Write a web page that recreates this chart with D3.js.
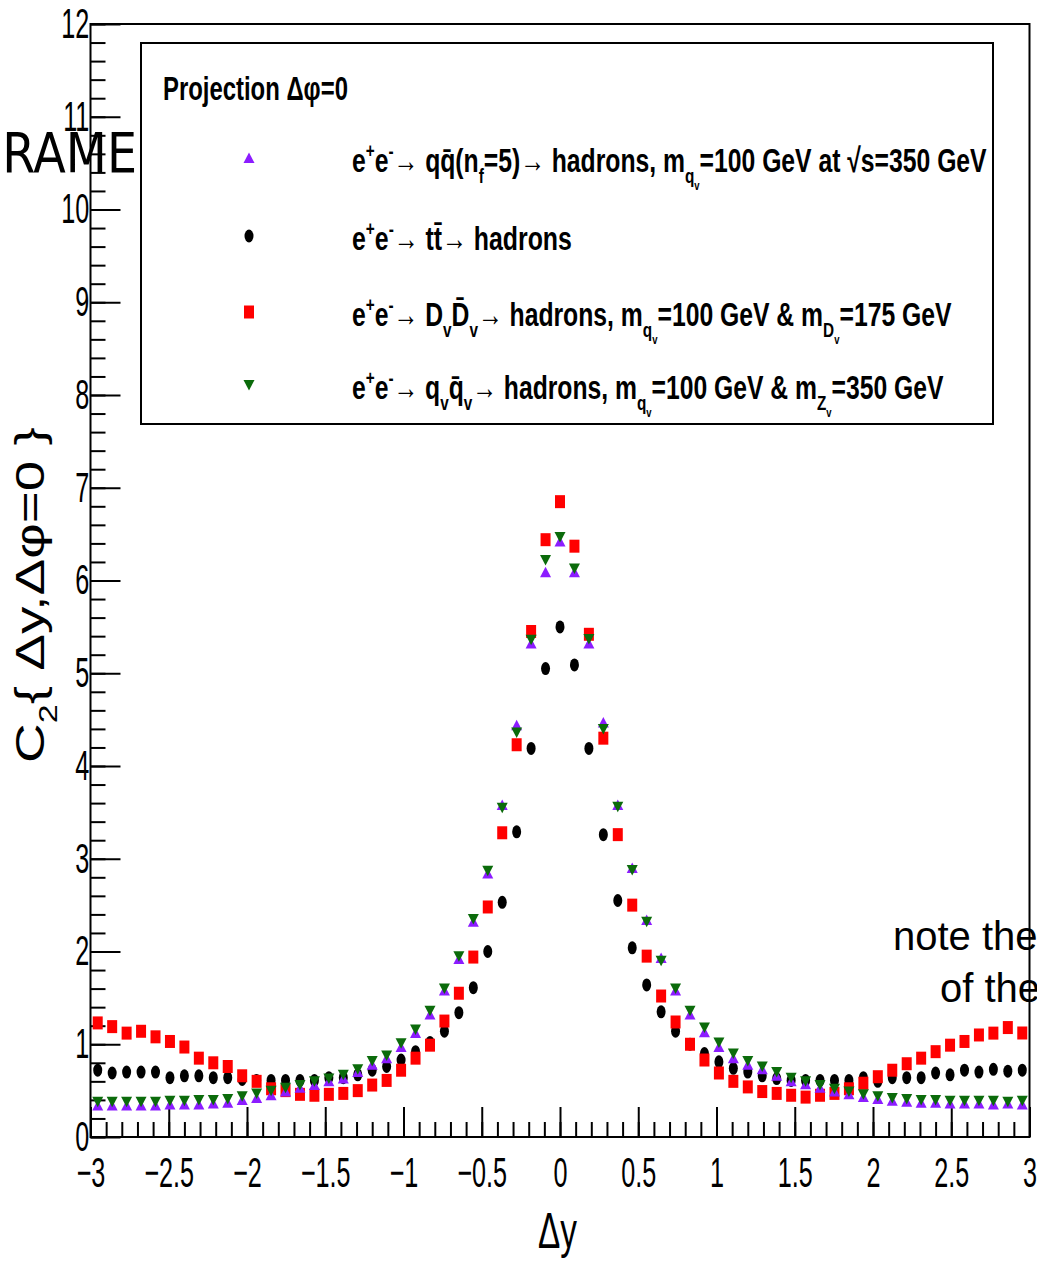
<!DOCTYPE html>
<html>
<head>
<meta charset="utf-8">
<script src="https://cdn.jsdelivr.net/npm/d3@7"></script>
<style>
  body { margin: 0; background: #fff; }
  svg { display: block; font-family: "Liberation Sans", Arial, sans-serif; }
</style>
</head>
<body>
<div id="chart"></div>
<script>
// Histogram binning (65 bins between -3 and 3)
const nBins = 65;
const xMin = -3, xMax = 3;
const xTicks = [-3, -2.5, -2, -1.5, -1, -0.5, 0, 0.5, 1, 1.5, 2, 2.5, 3];
const yTicks = [0, 1, 2, 3, 4, 5, 6, 7, 8, 9, 10, 11, 12];
const xMinorStep = 0.1, yMinorStep = 0.2;

// e+e- -> qqbar (nf=5)
const qqbar = [0.34,0.34,0.34,0.34,0.34,0.35,0.35,0.35,0.36,0.37,
               0.40,0.42,0.45,0.49,0.53,0.56,0.60,0.63,0.70,0.78,
               0.85,0.97,1.12,1.32,1.58,1.92,2.32,2.84,3.58,4.44,
               5.32,6.09,6.42,6.09,5.32,4.47,3.58,2.90,2.34,1.93,
               1.58,1.32,1.13,0.97,0.85,0.78,0.73,0.66,0.60,0.57,
               0.53,0.49,0.46,0.43,0.41,0.39,0.38,0.37,0.37,0.36,
               0.36,0.36,0.35,0.36,0.35];
// e+e- -> ttbar
const ttbar = [0.72,0.69,0.70,0.70,0.70,0.64,0.66,0.66,0.64,0.64,
               0.62,0.61,0.61,0.61,0.61,0.61,0.64,0.64,0.67,0.72,
               0.76,0.83,0.92,1.02,1.14,1.34,1.61,2.00,2.53,3.29,
               4.19,5.05,5.50,5.09,4.19,3.26,2.55,2.04,1.64,1.35,
               1.14,1.00,0.90,0.81,0.74,0.70,0.66,0.63,0.61,0.61,
               0.61,0.61,0.61,0.64,0.60,0.64,0.64,0.64,0.69,0.67,
               0.72,0.70,0.73,0.71,0.72];
// e+e- -> Dv Dvbar
const dvdv = [1.23,1.19,1.12,1.14,1.08,1.03,0.97,0.85,0.80,0.76,
              0.66,0.60,0.52,0.50,0.46,0.45,0.46,0.47,0.50,0.56,
              0.61,0.72,0.85,0.99,1.25,1.55,1.94,2.48,3.28,4.23,
              5.45,6.44,6.85,6.37,5.42,4.30,3.26,2.50,1.95,1.52,
              1.24,1.00,0.83,0.69,0.60,0.54,0.49,0.47,0.45,0.43,
              0.45,0.47,0.52,0.58,0.65,0.72,0.79,0.85,0.92,0.99,
              1.03,1.10,1.12,1.18,1.12];
// e+e- -> qv qvbar
const qvqv = [0.38,0.38,0.38,0.38,0.38,0.39,0.39,0.40,0.40,0.41,
              0.44,0.47,0.50,0.53,0.56,0.60,0.63,0.67,0.73,0.82,
              0.88,1.01,1.16,1.36,1.60,1.95,2.35,2.87,3.55,4.36,
              5.36,6.22,6.47,6.13,5.37,4.40,3.56,2.88,2.32,1.90,
              1.60,1.36,1.18,1.02,0.90,0.82,0.76,0.70,0.64,0.60,
              0.56,0.52,0.49,0.46,0.44,0.42,0.41,0.40,0.40,0.39,
              0.39,0.39,0.39,0.38,0.39];

const legendTitle = "Projection Δφ=0";
const legendLabels = [
    "e^{+}e^{-}→ qq\u0304(n_{f}=5)→ hadrons, m_{q_{v}}=100 GeV at √s=350 GeV",
    "e^{+}e^{-}→ tt\u0304→ hadrons",
    "e^{+}e^{-}→ D_{v}D\u0304_{v}→ hadrons, m_{q_{v}}=100 GeV & m_{D_{v}}=175 GeV",
    "e^{+}e^{-}→ q_{v}q\u0304_{v}→ hadrons, m_{q_{v}}=100 GeV & m_{Z_{v}}=350 GeV"
];

const W = 1037, H = 1261;
const frame = { left: 90.5, right: 1029.5, top: 24, bottom: 1137 };

const svg = d3.select("#chart").append("svg")
    .attr("width", W)
    .attr("height", H);

const x = d3.scaleLinear().domain([xMin, xMax]).range([frame.left, frame.right]);
const y = d3.scaleLinear().domain([0, 12]).range([frame.bottom, frame.top]);
const fmt = d3.format("~g");

const binCenters = d3.range(nBins).map(i => xMin + (i + 0.5) * (xMax - xMin) / nBins);
const xMinor = d3.range(xMin, xMax + 1e-9, xMinorStep);
const yMinor = d3.range(0, 12 + 1e-9, yMinorStep);

// small TLatex-like helper: ^{..} superscript, _{..} subscript
function latex(text, str, size) {
    let cur = 0;
    function emit(s, off, fs) {
        if (!s) return;
        text.append("tspan").attr("dy", off - cur).style("font-size", fs + "px").text(s);
        cur = off;
    }
    function walk(s, off, fs) {
        let buf = "";
        for (let i = 0; i < s.length; i++) {
            const c = s[i];
            if ((c === "^" || c === "_") && s[i + 1] === "{") {
                emit(buf, off, fs); buf = "";
                let depth = 0, j = i + 1;
                for (; j < s.length; j++) {
                    if (s[j] === "{") depth++;
                    else if (s[j] === "}") { depth--; if (depth === 0) break; }
                }
                const shift = c === "^" ? -fs * 0.42 : fs * 0.32;
                walk(s.slice(i + 2, j), off + shift, fs * 0.62);
                i = j;
            } else buf += c;
        }
        emit(buf, off, fs);
    }
    walk(str, 0, size);
}

function markerPath(shape, cx, cy) {
    if (shape === "circle")
        return `M${cx - 4.5},${cy}a4.5,6.5 0 1,0 9,0a4.5,6.5 0 1,0 -9,0Z`;
    if (shape === "square")
        return `M${cx - 5},${cy - 6.5}h10v13h-10Z`;
    if (shape === "up")
        return `M${cx},${cy - 5.5}L${cx + 5.5},${cy + 5}L${cx - 5.5},${cy + 5}Z`;
    return `M${cx},${cy + 5.5}L${cx + 5.5},${cy - 5}L${cx - 5.5},${cy - 5}Z`;
}

// note text sits under the frame line
svg.append("text").attr("x", 893).attr("y", 950)
    .style("font-size", "40px").text("note the");
svg.append("text").attr("x", 940).attr("y", 1002)
    .style("font-size", "40px").text("of the");

// axes
svg.append("g")
    .attr("transform", `translate(0,${frame.bottom})`)
    .call(d3.axisBottom(x).tickValues(xMinor).tickSize(-15).tickSizeOuter(0).tickFormat(""))
    .call(g => g.select(".domain").remove())
    .call(g => g.selectAll("line").attr("stroke-width", 2));

svg.append("g")
    .attr("transform", `translate(0,${frame.bottom})`)
    .call(d3.axisBottom(x).tickValues(xTicks).tickSize(-30).tickPadding(20).tickSizeOuter(0).tickFormat(fmt))
    .attr("font-size", 42)
    .attr("font-family", "Liberation Sans, Arial, sans-serif")
    .call(g => g.select(".domain").remove())
    .call(g => g.selectAll("line").attr("stroke-width", 2))
    .call(g => g.selectAll("text").attr("transform", "scale(0.6,1)"));

svg.append("g")
    .attr("transform", `translate(${frame.left},0)`)
    .call(d3.axisLeft(y).tickValues(yMinor).tickSize(-15).tickSizeOuter(0).tickFormat(""))
    .call(g => g.select(".domain").remove())
    .call(g => g.selectAll("line").attr("stroke-width", 2));

svg.append("g")
    .attr("transform", `translate(${frame.left},0)`)
    .call(d3.axisLeft(y).tickValues(yTicks).tickSize(-30).tickPadding(2).tickSizeOuter(0).tickFormat(fmt))
    .attr("font-size", 42)
    .attr("font-family", "Liberation Sans, Arial, sans-serif")
    .call(g => g.select(".domain").remove())
    .call(g => g.selectAll("line").attr("stroke-width", 2))
    .call(g => g.selectAll("text").attr("transform", "scale(0.6,1)"));

// frame
svg.append("rect")
    .attr("x", frame.left).attr("y", frame.top)
    .attr("width", frame.right - frame.left)
    .attr("height", frame.bottom - frame.top)
    .attr("fill", "none").attr("stroke", "#000").attr("stroke-width", 2);

// axis titles
const xTitle = svg.append("text").attr("text-anchor", "start");
latex(xTitle, "Δy", 50);
xTitle.attr("transform", `translate(538,1248) scale(${39 / xTitle.node().getBBox().width},1)`);

const yTitle = svg.append("text").attr("text-anchor", "middle");
latex(yTitle, "C_{2}{ Δy,Δφ=0 }", 50);
yTitle.attr("transform",
    `translate(44,595) rotate(-90) scale(${336 / yTitle.node().getBBox().width},0.81)`);

// data points, drawn back to front
const series = [
    { values: ttbar, color: "#000000", shape: "circle" },
    { values: dvdv,  color: "#ff0000", shape: "square" },
    { values: qqbar, color: "#8c1cff", shape: "up" },
    { values: qvqv,  color: "#0b6b0b", shape: "down" }
];

svg.append("g").selectAll("g")
    .data(series)
    .join("g")
    .attr("fill", d => d.color)
    .each(function(s) {
        d3.select(this).selectAll("path")
            .data(s.values)
            .join("path")
            .attr("d", (v, i) => markerPath(s.shape, x(binCenters[i]), y(v)));
    });

// legend
const legend = svg.append("g");
legend.append("rect")
    .attr("x", 141).attr("y", 43).attr("width", 852).attr("height", 381)
    .attr("fill", "#fff").attr("stroke", "#000").attr("stroke-width", 2);

const title = legend.append("text").style("font-weight", "bold");
latex(title, legendTitle, 34);
title.attr("transform", `translate(163,100) scale(${185 / title.node().getBBox().width},1)`);

const legendRows = [
    { series: series[2], y: 172, width: 635 },
    { series: series[0], y: 250, width: 220 },
    { series: series[1], y: 326, width: 600 },
    { series: series[3], y: 399, width: 592 }
];
legendRows.forEach((r, i) => {
    legend.append("path")
        .attr("d", markerPath(r.series.shape, 249, r.y - 14))
        .attr("fill", r.series.color);
    const t = legend.append("text").style("font-weight", "bold");
    latex(t, legendLabels[i], 34);
    t.attr("transform", `translate(352,${r.y}) scale(${r.width / t.node().getBBox().width},1)`);
});

// overlay annotation
svg.append("text")
    .attr("text-anchor", "end")
    .attr("transform", "translate(137,172) scale(0.85,1)")
    .style("font-family", "DejaVu Sans, sans-serif")
    .style("font-size", "56px")
    .text("FRAME");
</script>
</body>
</html>
